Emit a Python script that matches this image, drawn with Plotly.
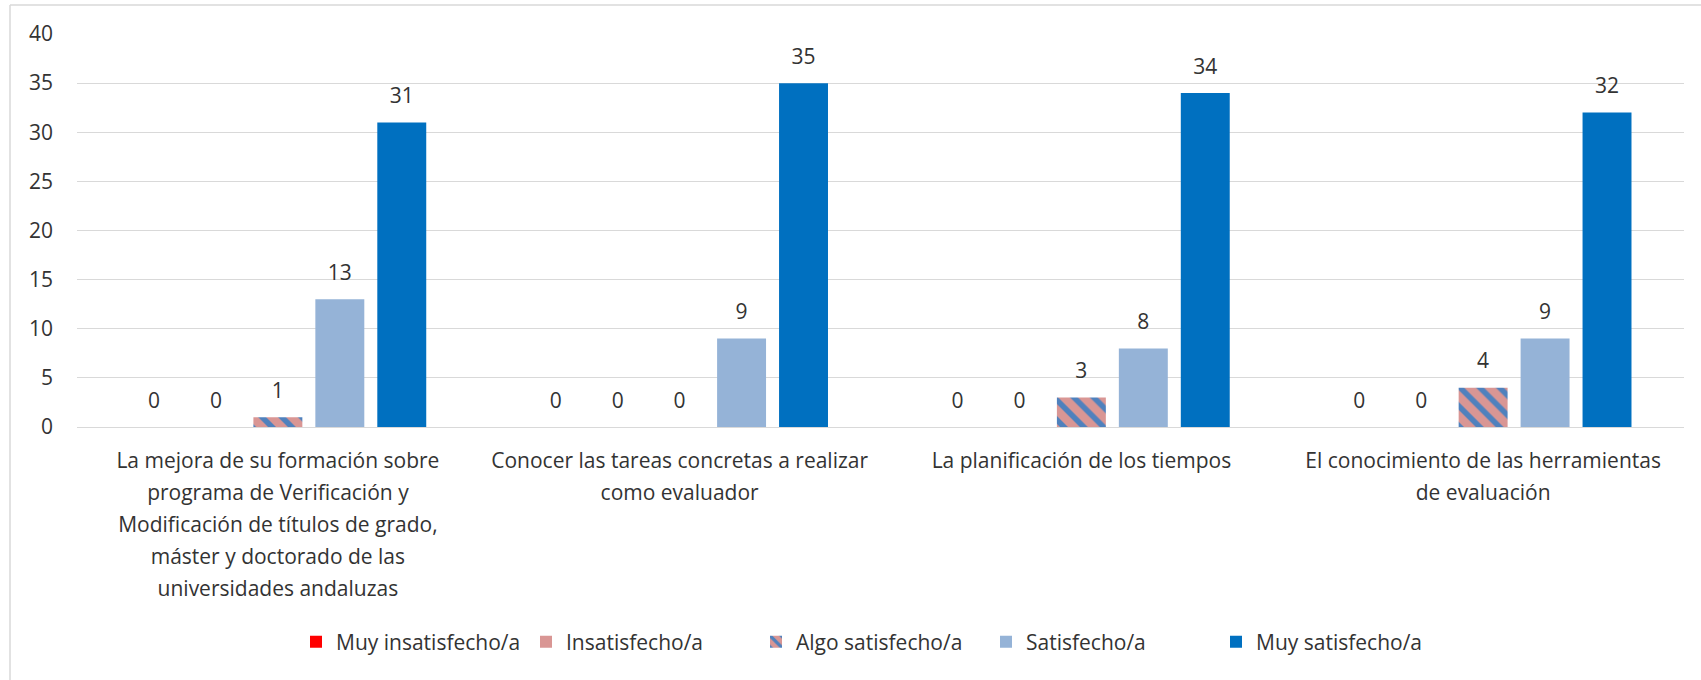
import plotly.graph_objects as go

categories = [
    "La mejora de su formación sobre<br>programa de Verificación y<br>Modificación de títulos de grado,<br>máster y doctorado de las<br>universidades andaluzas",
    "Conocer las tareas concretas a realizar<br>como evaluador",
    "La planificación de los tiempos",
    "El conocimiento de las herramientas<br>de evaluación",
]
series_names = ["Muy insatisfecho/a", "Insatisfecho/a", "Algo satisfecho/a", "Satisfecho/a", "Muy satisfecho/a"]
muy_insatisfecho = [0, 0, 0, 0]
insatisfecho = [0, 0, 0, 0]
algo_satisfecho = [1, 0, 3, 4]
satisfecho = [13, 9, 8, 9]
muy_satisfecho = [31, 35, 34, 32]
y_ticks = [0, 5, 10, 15, 20, 25, 30, 35, 40]

values = [muy_insatisfecho, insatisfecho, algo_satisfecho, satisfecho, muy_satisfecho]
colors = ["#FF0000", "#D99694", "#D99694", "#95B3D7", "#0070C0"]

FONT = "Open Sans"
FS = 21
TXT = "#333333"
W, H = 1701, 680
L, R, T, B = 77, 17, 34, 253
BARGAP = 0.229
pw = W - L - R
ph = H - T - B


def px_x(x):
    return (x - L) / pw


def px_y(y):
    return (T + ph - y) / ph


fig = go.Figure()
for i, (name, vals, col) in enumerate(zip(series_names, values, colors)):
    marker = dict(color=col, line=dict(width=0))
    if i == 2:
        marker["pattern"] = dict(shape="\\", bgcolor="#D99694", fgcolor="#4F81BD",
                                 fillmode="replace", size=14, solidity=0.4)
    fig.add_trace(go.Bar(name=name, x=categories, y=vals, marker=marker, hoverinfo="skip"))

# data labels, grouped like the bars
for name, vals in zip(series_names, values):
    fig.add_trace(go.Scatter(
        x=categories, y=vals, mode="markers+text", showlegend=False,
        text=[str(v) for v in vals], textposition="top center",
        textfont=dict(family=FONT, size=FS, color=TXT),
        marker=dict(size=21, color="rgba(0,0,0,0)"),
        cliponaxis=False, hoverinfo="skip",
    ))

# chart frame (left and top edges visible in the reference)
fig.add_shape(type="line", xref="paper", yref="paper",
              x0=px_x(10), x1=px_x(W), y0=px_y(5), y1=px_y(5),
              line=dict(color="#D9D9D9", width=1.5))
fig.add_shape(type="line", xref="paper", yref="paper",
              x0=px_x(10), x1=px_x(10), y0=px_y(5), y1=px_y(H),
              line=dict(color="#D9D9D9", width=1.5))

fig.update_layout(
    width=W, height=H,
    margin=dict(l=L, r=R, t=T, b=B),
    paper_bgcolor="white", plot_bgcolor="white",
    barmode="group", bargap=BARGAP, bargroupgap=0.21,
    scattermode="group", scattergap=BARGAP,
    font=dict(family=FONT, size=FS, color=TXT),
    showlegend=True,
    legend=dict(orientation="h", x=px_x(296), xanchor="left", y=px_y(642), yanchor="middle",
                entrywidth=185, entrywidthmode="pixels",
                font=dict(family=FONT, size=FS, color=TXT), itemclick=False),
    xaxis=dict(showgrid=False, showline=False, ticks="", ticklabelstandoff=19,
               tickfont=dict(family=FONT, size=FS, color=TXT)),
    yaxis=dict(range=[0, 40], tickvals=y_ticks, showgrid=True, gridcolor="#D9D9D9", gridwidth=1,
               zeroline=True, zerolinecolor="#D9D9D9", zerolinewidth=1, showline=False,
               ticklabelstandoff=23, tickfont=dict(family=FONT, size=FS, color=TXT)),
)

post = """
document.body.style.margin='0';
document.body.style.overflow='hidden';
var gd = document.getElementById('{plot_id}');
function spaceLines(){
  gd.querySelectorAll('.xtick text').forEach(function(t){
    var ls = t.querySelectorAll('tspan.line');
    for (var k = 0; k < ls.length; k++) { ls[k].setAttribute('dy', (k*1.52)+'em'); }
  });
}
spaceLines();
gd.on('plotly_afterplot', spaceLines);
"""

fig.write_html("out.html", config={"displayModeBar": False}, post_script=post)
